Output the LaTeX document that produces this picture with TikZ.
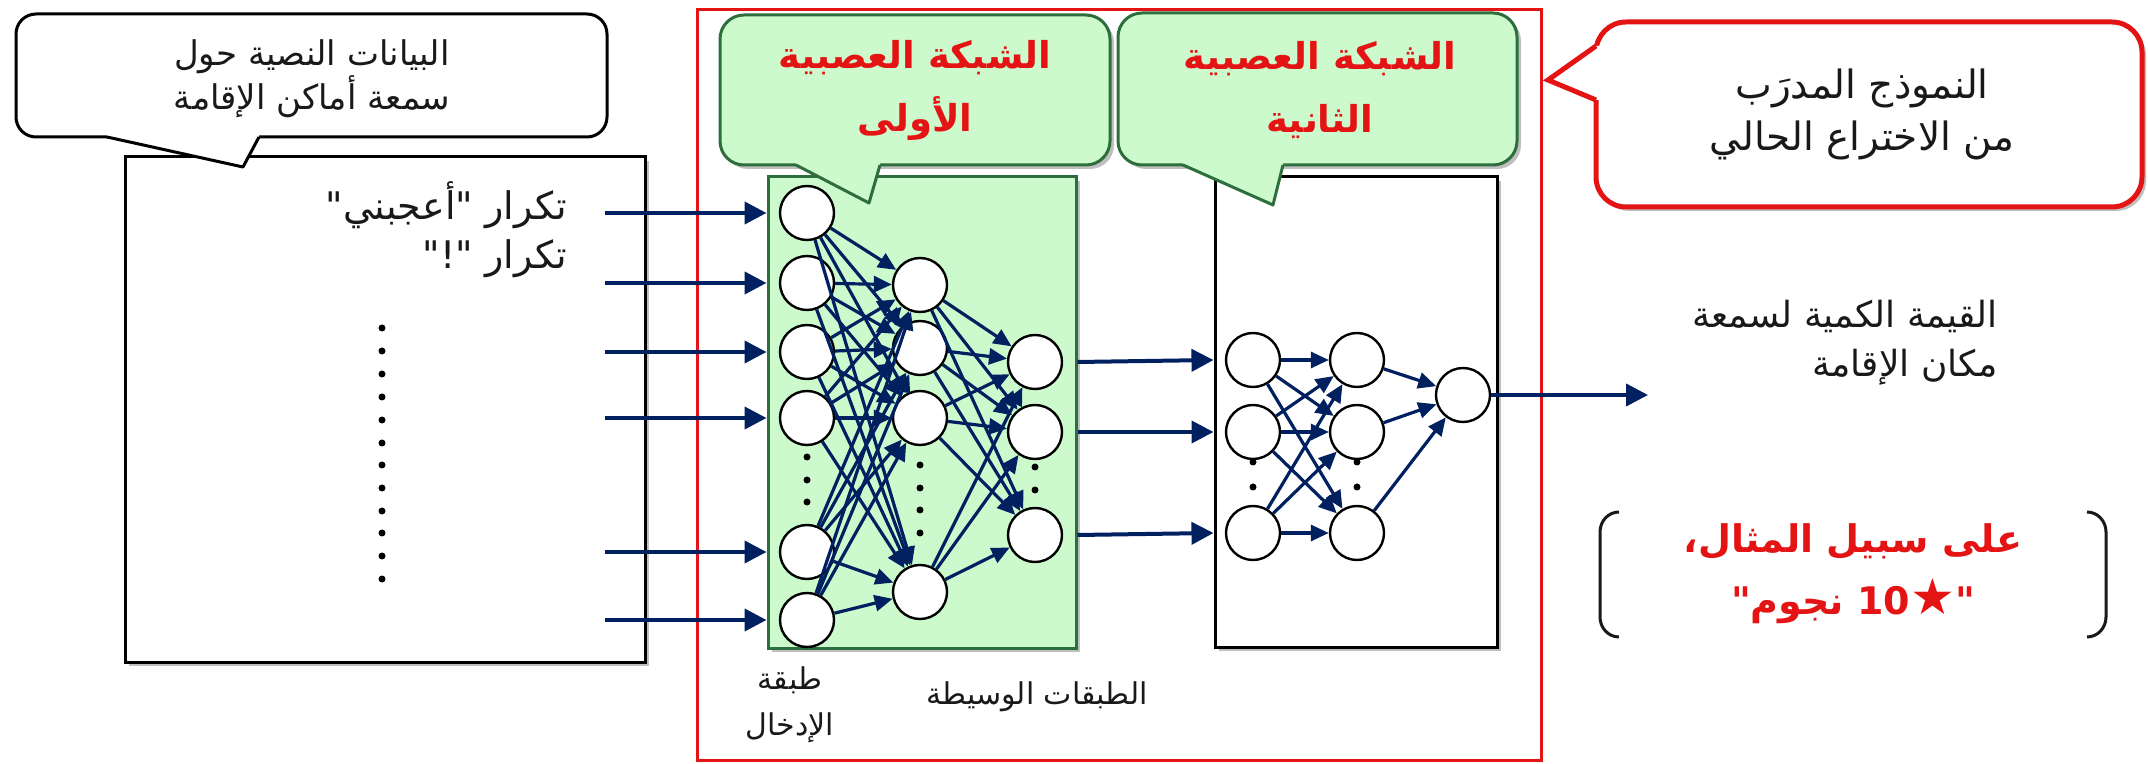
\documentclass[tikz,border=0pt]{standalone}
\usepackage{fontspec}
\newfontfamily\arabicfont[Script=Arabic]{DejaVu Sans}
\TeXXeTstate=1
\usetikzlibrary{arrows.meta,shadows}
\definecolor{navy}{RGB}{0,32,96}
\definecolor{lgreen}{RGB}{204,250,204}
\definecolor{dgreen}{RGB}{46,110,60}
\definecolor{myred}{RGB}{228,20,20}
\definecolor{ink}{RGB}{25,25,25}
\newcommand{\artext}[1]{\beginR #1\endR}
\begin{document}
\begin{tikzpicture}[x=0.5pt,y=-0.5pt,
  neuron/.style={circle, draw=black, line width=1.2pt, fill=white, minimum size=27pt, inner sep=0pt},
  conn/.style={draw=navy, line width=1.6pt, -{Triangle[length=9pt,width=8pt]}},
  bigarrow/.style={draw=navy, line width=2pt, -{Triangle[length=11pt,width=11pt]}},
  dotm/.style={circle, fill=black, inner sep=0pt, minimum size=3.5pt},
  blk/.style={font=\arabicfont\fontsize{19}{24}\selectfont, text=ink, inner sep=0pt, align=center},
  redbold/.style={font=\arabicfont\bfseries\fontsize{18.5}{31.5}\selectfont, text=myred, inner sep=0pt, align=center},
  boxline/.style={line width=1.5pt},
  softshadow/.style={drop shadow={shadow xshift=2pt, shadow yshift=-2pt, opacity=0.25, fill=black}},
]
\useasboundingbox (0,0) rectangle (2148,764);

% red frame of the trained model
\node[draw=myred, line width=1.5pt, minimum width=422pt, minimum height=375pt, inner sep=0pt] (frame) at (1119,385) {};

% input data box
\node[draw=black, boxline, fill=white, minimum width=260pt, minimum height=252.5pt, inner sep=0pt, softshadow] (inbox) at (385,409.5) {};
\node[blk, anchor=east] (lab1) at (567,205) {\artext{تكرار "\kern0ptأعجبني\kern0pt"}};
\node[blk, anchor=east] (lab2) at (567,259) {\artext{تكرار "\kern0pt!\kern0pt"}};
\foreach \k [count=\n] in {328,351,374,397,420,443,465,488,511,533,556,579}
  \node[dotm] (ld\n) at (382,\k) {};

% network boxes
\node[draw=dgreen, boxline, fill=lgreen, minimum width=154pt, minimum height=235.5pt, inner sep=0pt, softshadow] (gbox) at (922,412.5) {};
\node[draw=black, boxline, fill=white, minimum width=141pt, minimum height=235pt, inner sep=0pt, softshadow] (wbox) at (1356,412) {};

% neurons network 1
\foreach \y [count=\i] in {213,283,352,418,552,620} \node[neuron] (a\i) at (807,\y) {};
\foreach \y [count=\i] in {285,348,418,592} \node[neuron] (b\i) at (920,\y) {};
\foreach \y [count=\i] in {362,432,535} \node[neuron] (c\i) at (1035,\y) {};
% neurons network 2
\foreach \y [count=\i] in {360,432,533} \node[neuron] (d\i) at (1253,\y) {};
\foreach \y [count=\i] in {360,432,533} \node[neuron] (e\i) at (1357,\y) {};
\node[neuron] (f) at (1463,395) {};

% connections
\foreach \i in {1,...,6} \foreach \j in {1,...,4} \draw[conn] (a\i) -- (b\j);
\foreach \i in {1,...,4} \foreach \j in {1,...,3} \draw[conn] (b\i) -- (c\j);
\foreach \i in {1,2,3} \foreach \j in {1,2,3} \draw[conn] (d\i) -- (e\j);
\foreach \i in {1,2,3} \draw[conn] (e\i) -- (f);

% dots in networks
\foreach \y in {457,480,502} \node[dotm] at (807,\y) {};
\foreach \y in {465,488,510,533} \node[dotm] at (920,\y) {};
\foreach \y in {467,490} \node[dotm] at (1035,\y) {};
\foreach \y in {462,487} \node[dotm] at (1253,\y) {};
\foreach \y in {462,487} \node[dotm] at (1357,\y) {};

% input arrows
\foreach \y [count=\i] in {213,283,352,418,552,620} {
  \coordinate (in\i) at (605,\y);
  \draw[bigarrow] (in\i) -- (a\i -| gbox.west);
}
% between networks
\foreach \i in {1,2,3} \draw[bigarrow] (c\i -| gbox.east) -- (d\i -| wbox.west);
% output
\coordinate (out) at (1648,395);
\draw[bigarrow] (f.east) -- (out);

% left callout
\draw[black, boxline, fill=white, rounded corners=10pt] (16,14) rectangle (607,137);
\fill[white] (107,137) -- (243,167) -- (259,137) -- (259,132) -- (107,132) -- cycle;
\draw[black, boxline, line join=round] (107,137) -- (243,167) -- (259,137);
\node[blk, font=\arabicfont\fontsize{17}{20}\selectfont] (cl1) at (312,79) {\artext{البيانات النصية حول}\\\artext{سمعة أماكن الإقامة}};

% green callout 1
\draw[dgreen, boxline, fill=lgreen, rounded corners=12pt, softshadow] (720,15) rectangle (1110,165);
\fill[lgreen] (796,165) -- (869,203) -- (880,165) -- (880,160) -- (796,160) -- cycle;
\draw[dgreen, boxline, line join=round] (796,165) -- (869,203) -- (880,165);
\node[redbold] (g1) at (915,90) {\artext{الشبكة العصبية}\\\artext{الأولى}};

% green callout 2
\draw[dgreen, boxline, fill=lgreen, rounded corners=12pt, softshadow] (1118,13) rectangle (1517,165);
\fill[lgreen] (1183,165) -- (1273,205) -- (1283,165) -- (1283,160) -- (1183,160) -- cycle;
\draw[dgreen, boxline, line join=round] (1183,165) -- (1273,205) -- (1283,165);
\node[redbold] (g2) at (1320,90) {\artext{الشبكة العصبية}\\\artext{الثانية}};

% red callout
\draw[myred, line width=2.5pt, fill=white, rounded corners=15pt, softshadow] (1596,22) rectangle (2142,207);
\fill[white] (1596,46) -- (1548,80) -- (1596,100) -- (1603,100) -- (1603,46) -- cycle;
\draw[myred, line width=2.5pt] (1596,46) -- (1548,80) -- (1596,100);
\node[blk, font=\arabicfont\fontsize{19.5}{26}\selectfont] (rc) at (1862,114) {\artext{النموذج المدرَب}\\\artext{من الاختراع الحالي}};

% output description
\node[blk, font=\arabicfont\fontsize{18}{24.5}\selectfont, align=right, anchor=east] (outtxt) at (1998,343) {\artext{القيمة الكمية لسمعة}\\\artext{مكان الإقامة}};

% example in brackets
\draw[ink, line width=1.5pt] (1619,512) to[out=180,in=90] (1600,532) -- (1600,617) to[out=-90,in=180] (1619,637);
\draw[ink, line width=1.5pt] (2087,512) to[out=0,in=90] (2106,532) -- (2106,617) to[out=-90,in=0] (2087,637);
\node[redbold, font=\arabicfont\bfseries\fontsize{19}{31}\selectfont] (ex) at (1853,574) {\artext{على سبيل المثال،}\\\artext{"\kern0pt{\fontsize{25}{31}\selectfont ★}\kern0pt\beginL 10\endL{} نجوم\kern0pt"}};

% layer labels
\node[blk, font=\arabicfont\fontsize{15}{23}\selectfont] (inlayer) at (790,705) {\artext{طبقة}\\\artext{الإدخال}};
\node[blk, font=\arabicfont\fontsize{15}{23}\selectfont] (hidlayer) at (1037,697) {\artext{الطبقات الوسيطة}};
\end{tikzpicture}
\end{document}
